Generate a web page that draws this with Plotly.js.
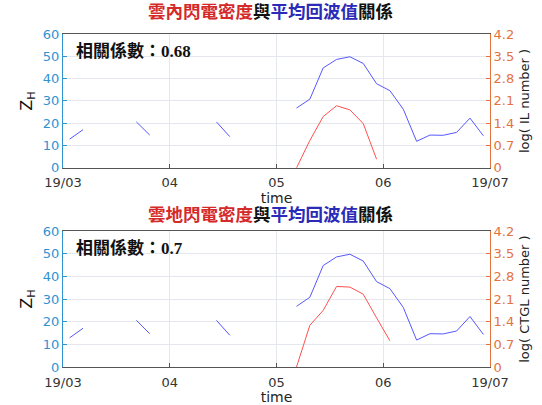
<!DOCTYPE html>
<html>
<head>
<meta charset="utf-8">
<script src="https://cdn.plot.ly/plotly-3.0.1.min.js"></script>
<style>html,body{margin:0;padding:0;background:#fff;}#chart{width:542px;height:405px;}</style>
</head>
<body>
<div id="chart"></div>
<script>
// Time positions (in months after 2019/03/01), 8 samples per month
const timePos = [0.0625, 0.1875, 0.3125, 0.4375, 0.5625, 0.6875, 0.8125, 0.9375,
                 1.0625, 1.1875, 1.3125, 1.4375, 1.5625, 1.6875, 1.8125, 1.9375,
                 2.0625, 2.1875, 2.3125, 2.4375, 2.5625, 2.6875, 2.8125, 2.9375,
                 3.0625, 3.1875, 3.3125, 3.4375, 3.5625, 3.6875, 3.8125, 3.9375];
const tickVals = [0, 1, 2, 3, 4];
const tickLabels = ['19/03', '04', '05', '06', '19/07'];

// Mean reflectivity Z_H
const zhMean = [12.9, 17.1, null, null, null, 20.6, 14.7, null,
                null, null, null, 20.6, 14.0, null, null, null,
                null, 26.8, 30.8, 44.8, 48.6, 49.8, 46.8, 37.7,
                34.6, 26.3, 11.9, 14.7, 14.6, 15.9, 22.3, 14.4];
// log(IL number)
const logIL = [null, null, null, null, null, null, null, null,
               null, null, null, null, null, null, null, null,
               null, 0, 0.86, 1.61, 1.95, 1.82, 1.39, 0.27,
               null, null, null, null, null, null, null, null];
// log(CTGL number)
const logCTGL = [null, null, null, null, null, null, null, null,
                 null, null, null, null, null, null, null, null,
                 null, 0, 1.29, 1.75, 2.49, 2.47, 2.25, 1.52,
                 0.81, null, null, null, null, null, null, null];

const corrIL = '0.68';
const corrCTGL = '0.7';

const BLUE_AX = '#2f93d3';
const ORANGE_AX = '#e2733f';
const LINE_BLUE = '#5757ff';
const LINE_RED = '#ff5050';
const GRID = '#e4e8ee';
const tickFont = {family: 'DejaVu Sans', size: 13};

const traces = [
  {x: timePos, y: zhMean, xaxis: 'x', yaxis: 'y', mode: 'lines', line: {color: LINE_BLUE, width: 1}, connectgaps: false, name: 'Z_H'},
  {x: timePos, y: logIL, xaxis: 'x', yaxis: 'y2', mode: 'lines', line: {color: LINE_RED, width: 1}, connectgaps: false, name: 'log IL'},
  {x: timePos, y: zhMean, xaxis: 'x2', yaxis: 'y3', mode: 'lines', line: {color: LINE_BLUE, width: 1}, connectgaps: false, name: 'Z_H'},
  {x: timePos, y: logCTGL, xaxis: 'x2', yaxis: 'y4', mode: 'lines', line: {color: LINE_RED, width: 1}, connectgaps: false, name: 'log CTGL'}
];

function xAx(anchor, standoff) {
  return {
    anchor: anchor, range: [0, 4], tickvals: tickVals, ticktext: tickLabels,
    showgrid: true, gridcolor: GRID, gridwidth: 1, zeroline: false,
    showline: true, linecolor: '#555', linewidth: 1, mirror: true,
    ticks: 'inside', ticklen: 4, tickcolor: '#555', ticklabelstandoff: 3,
    tickfont: Object.assign({color: '#333'}, tickFont),
    title: {text: 'time', font: {family: 'DejaVu Sans', size: 14, color: '#222'}, standoff: standoff}
  };
}
function yLeft(domain, anchor) {
  return {
    domain: domain, anchor: anchor, range: [0, 60], dtick: 10,
    showgrid: true, gridcolor: GRID, gridwidth: 1, zeroline: false,
    showline: true, linecolor: BLUE_AX, linewidth: 1,
    ticks: 'inside', ticklen: 4, tickcolor: BLUE_AX,
    tickfont: Object.assign({color: BLUE_AX}, tickFont),
    title: {text: 'Z<sub>H</sub>', font: {family: 'DejaVu Sans', size: 16, color: '#111'}, standoff: 6}
  };
}
function yRight(overlay, anchor, label) {
  return {
    overlaying: overlay, anchor: anchor, side: 'right', range: [0, 4.2], dtick: 0.7,
    showgrid: false, zeroline: false,
    showline: true, linecolor: ORANGE_AX, linewidth: 1,
    ticks: 'inside', ticklen: 4, tickcolor: ORANGE_AX,
    tickfont: Object.assign({color: ORANGE_AX}, tickFont),
    title: {text: label, font: {family: 'DejaVu Sans', size: 13, color: '#222'}, standoff: 6}
  };
}

const titleFont = {family: 'Liberation Serif, Noto Sans CJK TC', size: 17.5, color: '#111'};
const noteFont = {family: 'Liberation Serif, Noto Sans CJK TC', size: 17, color: '#111'};
const layout = {
  width: 542, height: 405,
  margin: {l: 63, r: 52, t: 34, b: 38},
  paper_bgcolor: '#fff', plot_bgcolor: '#fff',
  showlegend: false,
  xaxis: xAx('y', 1),
  xaxis2: xAx('y3', 1),
  yaxis: yLeft([0.598, 1], 'x'),
  yaxis2: yRight('y', 'x', 'log( IL number )'),
  yaxis3: yLeft([0, 0.408], 'x2'),
  yaxis4: yRight('y3', 'x2', 'log( CTGL number )'),
  annotations: [
    {xref: 'paper', yref: 'paper', x: 0.485, y: 1, yshift: 22, showarrow: false, yanchor: 'middle',
     text: '<b><span style="color:#d42a2a">雲內閃電密度</span>與<span style="color:#2b2bb8">平均回波值</span>關係</b>', font: titleFont},
    {xref: 'paper', yref: 'paper', x: 0.485, y: 0.408, yshift: 16, showarrow: false, yanchor: 'middle',
     text: '<b><span style="color:#d42a2a">雲地閃電密度</span>與<span style="color:#2b2bb8">平均回波值</span>關係</b>', font: titleFont},
    {xref: 'x', yref: 'y', x: 0.1, y: 52.5, xanchor: 'left', yanchor: 'middle', showarrow: false,
     text: '<b>相關係數：' + corrIL + '</b>', font: noteFont},
    {xref: 'x2', yref: 'y3', x: 0.1, y: 52.5, xanchor: 'left', yanchor: 'middle', showarrow: false,
     text: '<b>相關係數：' + corrCTGL + '</b>', font: noteFont}
  ]
};

Plotly.newPlot('chart', traces, layout, {displayModeBar: false, staticPlot: true});
</script>
</body>
</html>
